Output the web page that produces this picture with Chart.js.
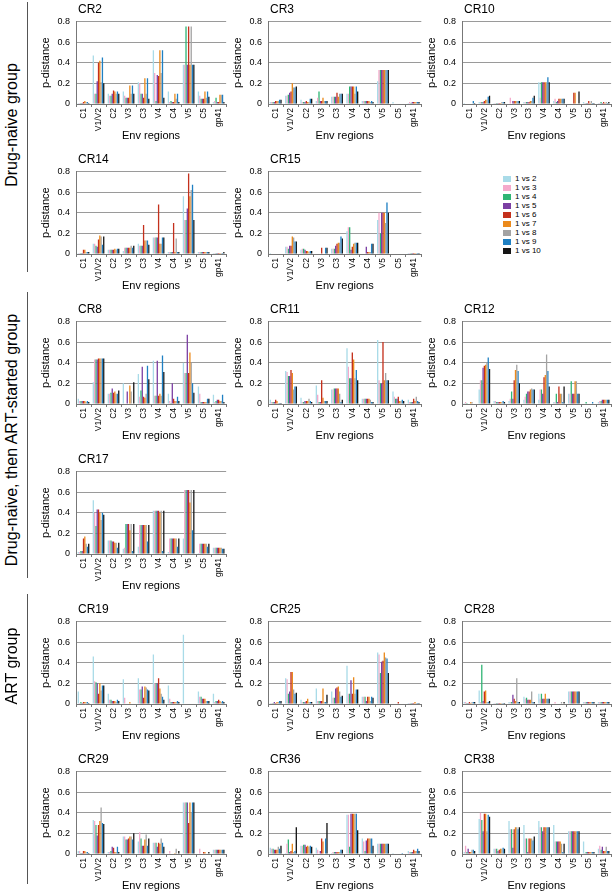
<!DOCTYPE html>
<html>
<head>
<meta charset="utf-8">
<script src="https://cdn.jsdelivr.net/npm/chart.js@4.4.0/dist/chart.umd.min.js"></script>
<style>
    body { margin: 0; background: #fff; width: 616px; height: 893px; position: relative; overflow: hidden;
           font-family: "Liberation Sans", Arial, sans-serif; color: #000; }
    canvas { position: absolute; }
    .ptitle { position: absolute; font-size: 12px; line-height: 12px; white-space: nowrap; }
    .group { position: absolute; font-size: 16px; white-space: nowrap; transform: translate(-50%, -50%) rotate(-90deg); }
    .vline { position: absolute; width: 1px; background: #555; }
    #legend { position: absolute; left: 503px; top: 174px; font-size: 8px; line-height: 9px; }
    #legend div { white-space: nowrap; }
    #legend span { display: inline-block; width: 8px; height: 6px; margin-right: 4px; vertical-align: -0.5px; }
</style>
</head>
<body>
<div id="legend"></div>
<script>
const regions = ['C1', 'V1/V2', 'C2', 'V3', 'C3', 'V4', 'C4', 'V5', 'C5', 'gp41'];
const seriesLabels = ['1 vs 2', '1 vs 3', '1 vs 4', '1 vs 5', '1 vs 6', '1 vs 7', '1 vs 8', '1 vs 9', '1 vs 10'];
const colors = ['#a9dbe8', '#f5a9cb', '#2fb574', '#7c3fa3', '#c4301c', '#eb8a1c', '#a3a3a3', '#1f80c3', '#151515'];

// one row per region, one value per comparison (1 vs 2 ... 1 vs 10)
const cr2 = [
    [0.01, 0.01, 0.01, 0.01, 0.02, 0.03, 0.02, 0.02, 0.01],
    [0.47, 0.10, 0.10, 0.22, 0.40, 0.42, 0.21, 0.45, 0.20],
    [0.10, 0.08, 0.08, 0.10, 0.13, 0.12, 0.10, 0.12, 0.10],
    [0.12, 0.08, 0.06, 0.06, 0.06, 0.18, 0.10, 0.18, 0.10],
    [0.21, 0.20, 0.10, 0.10, 0.06, 0.25, 0.10, 0.25, 0.05],
    [0.52, 0.30, 0.03, 0.28, 0.27, 0.52, 0.30, 0.52, 0.06],
    [0.12, 0.02, 0.03, 0.02, 0.02, 0.10, 0.05, 0.10, 0.02],
    [0.38, 0.38, 0.75, 0.38, 0.75, 0.38, 0.75, 0.38, 0.38],
    [0.12, 0.08, 0.05, 0.05, 0.05, 0.12, 0.06, 0.12, 0.07],
    [0.02, 0.03, 0.06, 0.02, 0.02, 0.09, 0.09, 0.09, 0.02]
];
const cr3 = [
    [0.02, 0.02, 0.02, 0.02, 0.03, 0.03, 0.03, 0.04, 0.04],
    [0.08, 0.08, 0.09, 0.11, 0.12, 0.20, 0.16, 0.16, 0.17],
    [0.04, 0.02, 0.02, 0.02, 0.03, 0.02, 0.02, 0.05, 0.05],
    [0.03, 0.06, 0.12, 0.03, 0.03, 0.06, 0.03, 0.03, 0.03],
    [0.07, 0.07, 0.07, 0.07, 0.11, 0.07, 0.10, 0.10, 0.10],
    [0.10, 0.10, 0.17, 0.17, 0.17, 0.17, 0.10, 0.17, 0.12],
    [0.03, 0.03, 0.03, 0.03, 0.03, 0.03, 0.02, 0.03, 0.02],
    [0.22, 0.33, 0.33, 0.33, 0.33, 0.33, 0.33, 0.33, 0.33],
    [0.02, 0.00, 0.00, 0.00, 0.00, 0.00, 0.00, 0.00, 0.00],
    [0.01, 0.02, 0.01, 0.02, 0.02, 0.02, 0.02, 0.02, 0.02]
];
const cr10 = [
    [0.01, 0.00, 0.00, 0.00, 0.00, 0.00, 0.00, 0.03, 0.01],
    [0.02, 0.02, 0.02, 0.02, 0.03, 0.04, 0.04, 0.07, 0.08],
    [0.01, 0.01, 0.01, 0.01, 0.01, 0.01, 0.02, 0.02, 0.02],
    [0.00, 0.06, 0.00, 0.03, 0.03, 0.03, 0.03, 0.03, 0.03],
    [0.02, 0.02, 0.02, 0.02, 0.02, 0.03, 0.03, 0.06, 0.08],
    [0.21, 0.06, 0.21, 0.21, 0.21, 0.21, 0.21, 0.26, 0.21],
    [0.03, 0.05, 0.02, 0.03, 0.05, 0.05, 0.05, 0.05, 0.05],
    [0.00, 0.00, 0.00, 0.00, 0.11, 0.11, 0.00, 0.00, 0.12],
    [0.02, 0.01, 0.01, 0.01, 0.03, 0.01, 0.03, 0.01, 0.01],
    [0.01, 0.01, 0.02, 0.01, 0.02, 0.01, 0.02, 0.01, 0.02]
];
const cr14 = [
    [0.01, 0.01, 0.01, 0.01, 0.04, 0.04, 0.02, 0.02, 0.02],
    [0.10, 0.10, 0.08, 0.07, 0.14, 0.18, 0.17, 0.09, 0.17],
    [0.04, 0.04, 0.04, 0.04, 0.04, 0.05, 0.04, 0.05, 0.05],
    [0.03, 0.06, 0.06, 0.06, 0.06, 0.06, 0.08, 0.06, 0.08],
    [0.10, 0.08, 0.08, 0.08, 0.28, 0.13, 0.13, 0.13, 0.09],
    [0.16, 0.16, 0.16, 0.16, 0.48, 0.10, 0.10, 0.16, 0.16],
    [0.02, 0.02, 0.02, 0.02, 0.30, 0.02, 0.15, 0.02, 0.02],
    [0.56, 0.33, 0.33, 0.44, 0.78, 0.56, 0.62, 0.67, 0.33],
    [0.02, 0.02, 0.02, 0.02, 0.02, 0.02, 0.02, 0.02, 0.02],
    [0.01, 0.01, 0.01, 0.01, 0.01, 0.01, 0.01, 0.01, 0.02]
];
const cr15 = [
    [0.01, 0.00, 0.00, 0.00, 0.00, 0.00, 0.00, 0.00, 0.00],
    [0.07, 0.07, 0.05, 0.08, 0.08, 0.17, 0.16, 0.12, 0.12],
    [0.04, 0.05, 0.05, 0.04, 0.03, 0.03, 0.02, 0.03, 0.03],
    [0.00, 0.00, 0.00, 0.00, 0.06, 0.00, 0.00, 0.06, 0.06],
    [0.05, 0.05, 0.05, 0.08, 0.10, 0.11, 0.11, 0.17, 0.15],
    [0.22, 0.26, 0.26, 0.04, 0.07, 0.10, 0.11, 0.11, 0.11],
    [0.00, 0.00, 0.00, 0.07, 0.02, 0.02, 0.02, 0.10, 0.10],
    [0.33, 0.40, 0.20, 0.40, 0.40, 0.40, 0.30, 0.50, 0.40],
    [0.00, 0.00, 0.00, 0.00, 0.00, 0.00, 0.00, 0.00, 0.00],
    [0.01, 0.01, 0.01, 0.01, 0.01, 0.01, 0.01, 0.01, 0.01]
];
const cr8 = [
    [0.05, 0.03, 0.03, 0.03, 0.03, 0.03, 0.02, 0.03, 0.02],
    [0.21, 0.43, 0.43, 0.43, 0.44, 0.44, 0.44, 0.44, 0.44],
    [0.10, 0.10, 0.11, 0.15, 0.11, 0.12, 0.10, 0.10, 0.13],
    [0.20, 0.00, 0.00, 0.12, 0.00, 0.18, 0.12, 0.00, 0.21],
    [0.29, 0.07, 0.13, 0.36, 0.07, 0.06, 0.10, 0.37, 0.24],
    [0.42, 0.08, 0.08, 0.42, 0.08, 0.10, 0.08, 0.47, 0.31],
    [0.10, 0.03, 0.01, 0.20, 0.05, 0.03, 0.03, 0.07, 0.03],
    [0.40, 0.30, 0.30, 0.67, 0.30, 0.50, 0.40, 0.20, 0.11],
    [0.17, 0.10, 0.02, 0.02, 0.02, 0.02, 0.02, 0.05, 0.05],
    [0.09, 0.02, 0.03, 0.04, 0.04, 0.03, 0.03, 0.09, 0.02]
];
const cr11 = [
    [0.04, 0.02, 0.02, 0.02, 0.04, 0.03, 0.01, 0.01, 0.01],
    [0.32, 0.31, 0.27, 0.27, 0.33, 0.30, 0.14, 0.17, 0.17],
    [0.06, 0.02, 0.02, 0.03, 0.03, 0.03, 0.05, 0.03, 0.02],
    [0.18, 0.09, 0.02, 0.02, 0.23, 0.06, 0.03, 0.03, 0.03],
    [0.14, 0.14, 0.15, 0.15, 0.15, 0.15, 0.10, 0.02, 0.04],
    [0.54, 0.36, 0.25, 0.25, 0.50, 0.43, 0.25, 0.33, 0.23],
    [0.05, 0.05, 0.05, 0.05, 0.05, 0.05, 0.04, 0.02, 0.02],
    [0.62, 0.23, 0.20, 0.20, 0.60, 0.23, 0.30, 0.23, 0.23],
    [0.12, 0.07, 0.05, 0.05, 0.07, 0.03, 0.03, 0.04, 0.03],
    [0.04, 0.02, 0.02, 0.02, 0.05, 0.03, 0.07, 0.03, 0.02]
];
const cr12 = [
    [0.01, 0.02, 0.01, 0.00, 0.00, 0.02, 0.02, 0.00, 0.00],
    [0.14, 0.23, 0.23, 0.35, 0.37, 0.38, 0.40, 0.45, 0.34],
    [0.03, 0.03, 0.02, 0.02, 0.02, 0.02, 0.02, 0.03, 0.02],
    [0.03, 0.05, 0.12, 0.05, 0.23, 0.33, 0.38, 0.32, 0.20],
    [0.04, 0.07, 0.10, 0.12, 0.12, 0.14, 0.15, 0.14, 0.14],
    [0.04, 0.14, 0.14, 0.10, 0.26, 0.28, 0.48, 0.32, 0.17],
    [0.02, 0.02, 0.10, 0.02, 0.17, 0.10, 0.10, 0.02, 0.17],
    [0.10, 0.10, 0.22, 0.10, 0.10, 0.22, 0.22, 0.10, 0.10],
    [0.00, 0.00, 0.02, 0.00, 0.00, 0.00, 0.00, 0.02, 0.00],
    [0.02, 0.03, 0.03, 0.04, 0.04, 0.04, 0.04, 0.04, 0.04]
];
const cr17 = [
    [0.02, 0.02, 0.03, 0.03, 0.15, 0.17, 0.10, 0.07, 0.10],
    [0.52, 0.40, 0.27, 0.43, 0.43, 0.40, 0.33, 0.40, 0.38],
    [0.13, 0.13, 0.13, 0.12, 0.12, 0.11, 0.11, 0.06, 0.11],
    [0.05, 0.06, 0.29, 0.29, 0.29, 0.23, 0.29, 0.03, 0.29],
    [0.07, 0.28, 0.28, 0.28, 0.28, 0.28, 0.28, 0.12, 0.28],
    [0.42, 0.42, 0.42, 0.42, 0.42, 0.40, 0.42, 0.03, 0.42],
    [0.02, 0.15, 0.15, 0.15, 0.15, 0.15, 0.15, 0.07, 0.15],
    [0.15, 0.62, 0.62, 0.62, 0.62, 0.50, 0.62, 0.23, 0.62],
    [0.01, 0.10, 0.10, 0.10, 0.10, 0.10, 0.10, 0.07, 0.10],
    [0.06, 0.06, 0.06, 0.06, 0.06, 0.06, 0.06, 0.05, 0.05]
];
const cr19 = [
    [0.12, 0.01, 0.02, 0.01, 0.02, 0.02, 0.02, 0.02, 0.01],
    [0.46, 0.22, 0.21, 0.20, 0.10, 0.20, 0.13, 0.18, 0.18],
    [0.10, 0.04, 0.04, 0.03, 0.03, 0.03, 0.02, 0.04, 0.03],
    [0.24, 0.06, 0.00, 0.00, 0.00, 0.02, 0.00, 0.00, 0.00],
    [0.25, 0.14, 0.14, 0.17, 0.06, 0.17, 0.16, 0.14, 0.13],
    [0.48, 0.20, 0.20, 0.20, 0.25, 0.15, 0.10, 0.07, 0.04],
    [0.18, 0.05, 0.02, 0.02, 0.02, 0.02, 0.02, 0.03, 0.02],
    [0.67, 0.00, 0.00, 0.00, 0.00, 0.00, 0.00, 0.00, 0.00],
    [0.12, 0.07, 0.07, 0.05, 0.05, 0.05, 0.03, 0.03, 0.03],
    [0.10, 0.02, 0.03, 0.03, 0.04, 0.03, 0.02, 0.03, 0.02]
];
const cr25 = [
    [0.01, 0.01, 0.01, 0.02, 0.01, 0.02, 0.02, 0.03, 0.03],
    [0.25, 0.24, 0.10, 0.12, 0.31, 0.31, 0.14, 0.10, 0.11],
    [0.04, 0.02, 0.02, 0.02, 0.03, 0.05, 0.02, 0.02, 0.02],
    [0.15, 0.03, 0.03, 0.03, 0.03, 0.15, 0.02, 0.02, 0.09],
    [0.12, 0.06, 0.06, 0.15, 0.16, 0.17, 0.12, 0.07, 0.08],
    [0.37, 0.10, 0.10, 0.23, 0.10, 0.26, 0.10, 0.14, 0.14],
    [0.07, 0.07, 0.07, 0.03, 0.07, 0.07, 0.03, 0.07, 0.06],
    [0.50, 0.48, 0.30, 0.41, 0.42, 0.50, 0.45, 0.44, 0.30],
    [0.00, 0.00, 0.00, 0.00, 0.02, 0.00, 0.00, 0.00, 0.00],
    [0.01, 0.01, 0.01, 0.01, 0.01, 0.02, 0.01, 0.01, 0.01]
];
const cr28 = [
    [0.02, 0.02, 0.01, 0.01, 0.02, 0.01, 0.02, 0.02, 0.02],
    [0.13, 0.02, 0.38, 0.03, 0.12, 0.13, 0.02, 0.02, 0.03],
    [0.01, 0.01, 0.01, 0.01, 0.01, 0.01, 0.01, 0.01, 0.01],
    [0.02, 0.02, 0.02, 0.09, 0.05, 0.03, 0.25, 0.02, 0.02],
    [0.07, 0.05, 0.06, 0.04, 0.04, 0.04, 0.12, 0.02, 0.02],
    [0.10, 0.05, 0.10, 0.05, 0.05, 0.10, 0.05, 0.05, 0.05],
    [0.00, 0.02, 0.00, 0.00, 0.00, 0.00, 0.02, 0.00, 0.02],
    [0.12, 0.12, 0.12, 0.12, 0.12, 0.12, 0.12, 0.12, 0.12],
    [0.02, 0.02, 0.02, 0.02, 0.02, 0.02, 0.02, 0.02, 0.02],
    [0.02, 0.02, 0.02, 0.02, 0.02, 0.02, 0.02, 0.02, 0.02]
];
const cr29 = [
    [0.03, 0.03, 0.01, 0.01, 0.03, 0.03, 0.02, 0.02, 0.01],
    [0.33, 0.32, 0.28, 0.18, 0.28, 0.32, 0.45, 0.30, 0.29],
    [0.02, 0.02, 0.03, 0.07, 0.06, 0.02, 0.02, 0.07, 0.02],
    [0.17, 0.17, 0.14, 0.14, 0.15, 0.17, 0.17, 0.14, 0.20],
    [0.12, 0.21, 0.15, 0.08, 0.08, 0.14, 0.19, 0.08, 0.15],
    [0.11, 0.11, 0.11, 0.07, 0.11, 0.10, 0.15, 0.11, 0.07],
    [0.00, 0.03, 0.00, 0.00, 0.00, 0.01, 0.05, 0.00, 0.03],
    [0.50, 0.50, 0.50, 0.50, 0.30, 0.50, 0.40, 0.50, 0.50],
    [0.00, 0.05, 0.00, 0.00, 0.02, 0.02, 0.00, 0.00, 0.02],
    [0.04, 0.04, 0.04, 0.04, 0.04, 0.04, 0.04, 0.04, 0.04]
];
const cr36 = [
    [0.06, 0.05, 0.05, 0.04, 0.04, 0.04, 0.07, 0.05, 0.08],
    [0.01, 0.10, 0.14, 0.02, 0.03, 0.10, 0.02, 0.03, 0.26],
    [0.08, 0.08, 0.09, 0.09, 0.07, 0.08, 0.07, 0.08, 0.07],
    [0.06, 0.04, 0.00, 0.03, 0.15, 0.12, 0.00, 0.15, 0.30],
    [0.01, 0.02, 0.02, 0.02, 0.02, 0.02, 0.02, 0.04, 0.04],
    [0.38, 0.38, 0.07, 0.39, 0.39, 0.39, 0.39, 0.39, 0.23],
    [0.15, 0.12, 0.03, 0.13, 0.15, 0.15, 0.15, 0.15, 0.08],
    [0.10, 0.10, 0.10, 0.10, 0.10, 0.10, 0.10, 0.10, 0.10],
    [0.01, 0.00, 0.00, 0.00, 0.00, 0.00, 0.00, 0.01, 0.00],
    [0.03, 0.02, 0.02, 0.02, 0.04, 0.03, 0.03, 0.05, 0.03]
];
const cr38 = [
    [0.02, 0.08, 0.02, 0.05, 0.02, 0.02, 0.04, 0.04, 0.03],
    [0.34, 0.40, 0.33, 0.22, 0.39, 0.39, 0.22, 0.38, 0.36],
    [0.05, 0.05, 0.05, 0.03, 0.04, 0.05, 0.05, 0.06, 0.05],
    [0.32, 0.24, 0.24, 0.06, 0.24, 0.26, 0.26, 0.24, 0.26],
    [0.28, 0.15, 0.15, 0.02, 0.15, 0.15, 0.15, 0.13, 0.17],
    [0.32, 0.26, 0.26, 0.22, 0.26, 0.26, 0.26, 0.26, 0.26],
    [0.28, 0.12, 0.12, 0.12, 0.12, 0.12, 0.10, 0.02, 0.10],
    [0.22, 0.22, 0.22, 0.22, 0.22, 0.22, 0.22, 0.22, 0.22],
    [0.12, 0.01, 0.02, 0.02, 0.02, 0.02, 0.02, 0.02, 0.02],
    [0.05, 0.08, 0.04, 0.07, 0.03, 0.03, 0.07, 0.03, 0.03]
];

// layout of the grid of panels
const colLeft = [76, 268, 462];
const colRight = [227, 422, 612];
const rowTop0 = 16, rowStep = 150, plotH = 88;
const axisW = 37, axisH = 41, padTop = 6;

const panels = [
    ['CR2', cr2, 0, 0], ['CR3', cr3, 1, 0], ['CR10', cr10, 2, 0],
    ['CR14', cr14, 0, 1], ['CR15', cr15, 1, 1],
    ['CR8', cr8, 0, 2], ['CR11', cr11, 1, 2], ['CR12', cr12, 2, 2],
    ['CR17', cr17, 0, 3],
    ['CR19', cr19, 0, 4], ['CR25', cr25, 1, 4], ['CR28', cr28, 2, 4],
    ['CR29', cr29, 0, 5], ['CR36', cr36, 1, 5], ['CR38', cr38, 2, 5]
];

const groups = [
    { text: 'Drug-naive group', x: 12, y: 125, top: 2, bottom: 272 },
    { text: 'Drug-naive, then ART-started group', x: 12, y: 440, top: 292, bottom: 578 },
    { text: 'ART group', x: 12, y: 666, top: 594, bottom: 884 }
];

function makePanel(name, rows, col, row) {
    const plotTop = rowTop0 + rowStep * row;
    const left = colLeft[col] - axisW;
    const width = colRight[col] - left + 3;
    const height = padTop + plotH + axisH;

    const canvas = document.createElement('canvas');
    canvas.width = width;
    canvas.height = height;
    canvas.style.left = left + 'px';
    canvas.style.top = (plotTop - padTop) + 'px';
    document.body.appendChild(canvas);

    const title = document.createElement('div');
    title.className = 'ptitle';
    title.innerText = name;
    title.style.left = (colLeft[col] + 2) + 'px';
    title.style.top = (plotTop - 13) + 'px';
    document.body.appendChild(title);

    new Chart(canvas, {
        type: 'bar',
        data: {
            labels: regions,
            datasets: seriesLabels.map((s, i) => ({
                label: s,
                data: rows.map(r => r[i]),
                backgroundColor: colors[i],
                barPercentage: 1,
                categoryPercentage: 0.78
            }))
        },
        options: {
            responsive: false,
            animation: false,
            events: [],
            layout: { padding: { top: padTop, right: 3, left: 0, bottom: 0 } },
            plugins: { legend: { display: false }, tooltip: { enabled: false } },
            scales: {
                x: {
                    grid: { display: true, drawOnChartArea: false, tickLength: 3, color: '#777' },
                    border: { color: '#777' },
                    ticks: { autoSkip: false, minRotation: 90, maxRotation: 90, padding: 1,
                             color: '#000', font: { family: 'Liberation Sans', size: 8.5 } },
                    title: { display: true, text: 'Env regions', color: '#000', padding: { top: 0, bottom: 2 },
                             font: { family: 'Liberation Sans', size: 11 } },
                    afterFit(scale) { scale.height = axisH; }
                },
                y: {
                    min: 0,
                    max: 0.8,
                    grid: { color: '#9a9a9a', drawTicks: false },
                    border: { color: '#777' },
                    ticks: { stepSize: 0.1, padding: 6, color: '#000',
                             font: { family: 'Liberation Sans', size: 9 },
                             callback: v => v === 0 ? '0' : v.toFixed(1) },
                    title: { display: true, text: 'p-distance', color: '#000', padding: { top: 0, bottom: 0 },
                             font: { family: 'Liberation Sans', size: 11 } },
                    afterFit(scale) { scale.width = axisW; }
                }
            }
        }
    });
}

panels.forEach(p => makePanel(p[0], p[1], p[2], p[3]));

groups.forEach(g => {
    const label = document.createElement('div');
    label.className = 'group';
    label.innerText = g.text;
    label.style.left = g.x + 'px';
    label.style.top = g.y + 'px';
    document.body.appendChild(label);

    const line = document.createElement('div');
    line.className = 'vline';
    line.style.left = '27px';
    line.style.top = g.top + 'px';
    line.style.height = (g.bottom - g.top) + 'px';
    document.body.appendChild(line);
});

document.getElementById('legend').innerHTML = seriesLabels.map((s, i) =>
    `<div><span style="background:${colors[i]}"></span>${s}</div>`
).join('');
</script>
</body>
</html>
